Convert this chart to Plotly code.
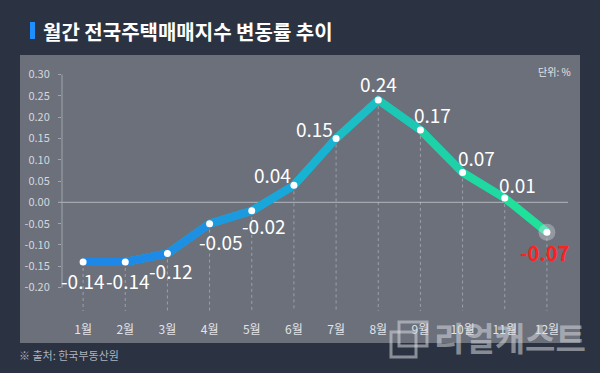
import plotly.graph_objects as go

# ---- data ----
months = ["1월", "2월", "3월", "4월", "5월", "6월", "7월", "8월", "9월", "10월", "11월", "12월"]
values = [-0.14, -0.14, -0.12, -0.05, -0.02, 0.04, 0.15, 0.24, 0.17, 0.07, 0.01, -0.07]
y_ticks = [0.30, 0.25, 0.20, 0.15, 0.10, 0.05, 0.00, -0.05, -0.10, -0.15, -0.20]
y_tick_labels = ["%.2f" % v for v in y_ticks]
title_text = "월간 전국주택매매지수 변동률 추이"
unit_text = "단위: %"
source_text = "※ 출처: 한국부동산원"
brand_text = "리얼캐스트"

# ---- style ----
W, H = 600, 373
L, R, T, B = 62, 32, 66, 62
PW, PH = W - L - R, H - T - B
FONT = "Noto Sans CJK KR, Noto Sans, sans-serif"
Y_RANGE = [-0.255, 0.32]
X_RANGE = [-0.5, len(months) - 0.5]
BG = "#2b3342"
PANEL = "#6b707b"

seg_colors = ["#1e88e8", "#1e8ae8", "#1d90e4", "#1b9ae0", "#19a6da", "#18b2d2",
              "#1abec4", "#1cc8b4", "#1ed2a8", "#1fd9a0", "#20e09a"]
# label offsets in px (dx right, dy down)
label_offsets = [(0, 18), (3, 18), (4, 17), (11, 18), (12, 15), (-21, -11),
                 (-22, -10), (0, -17), (12, -15), (14, -15), (13, -14), (-2, 20)]


def px_x(p):
    return (p - L) / PW


def px_y(p):
    return (H - B - p) / PH


x_idx = list(range(len(months)))
fig = go.Figure()

# vertical dotted guides from each point down
gx, gy = [], []
for i, v in zip(x_idx, values):
    gx += [i, i, None]
    gy += [v, Y_RANGE[0], None]
fig.add_trace(go.Scatter(x=gx, y=gy, mode="lines", hoverinfo="skip",
                         line=dict(color="rgba(215,218,224,0.45)", width=1, dash="dot"),
                         showlegend=False))

# base line (fills joints)
fig.add_trace(go.Scatter(x=x_idx, y=values, mode="lines", hoverinfo="skip",
                         line=dict(color="#1cb4c8", width=8), showlegend=False))
# coloured segments (gradient effect)
for k in range(len(values) - 1):
    fig.add_trace(go.Scatter(x=x_idx[k:k + 2], y=values[k:k + 2], mode="lines",
                             hoverinfo="skip", line=dict(color=seg_colors[k], width=8),
                             showlegend=False))
# halo on last point
fig.add_trace(go.Scatter(x=[x_idx[-1]], y=[values[-1]], mode="markers", hoverinfo="skip",
                         marker=dict(size=17, color="rgba(225,228,232,0.35)"),
                         showlegend=False))
# white dots
fig.add_trace(go.Scatter(x=x_idx, y=values, mode="markers",
                         marker=dict(size=7, color="white"), showlegend=False))

annotations = []
for i, (v, (dx, dy)) in enumerate(zip(values, label_offsets)):
    last = i == len(values) - 1
    annotations.append(dict(
        x=i, y=v, xref="x", yref="y", text=("<b>%.2f</b>" if last else "%.2f") % v,
        showarrow=False, xshift=dx, yshift=-dy,
        font=dict(family=FONT, size=20 if last else 19,
                  color="#ff2020" if last else "white")))

annotations += [
    dict(x=px_x(41), y=px_y(31), xref="paper", yref="paper", text="<b>%s</b>" % title_text,
         xanchor="left", yanchor="middle", showarrow=False,
         font=dict(family=FONT, size=20, color="white")),
    dict(x=px_x(573), y=px_y(71), xref="paper", yref="paper", text=unit_text,
         xanchor="right", yanchor="middle", showarrow=False,
         font=dict(family=FONT, size=10, color="#e2e4e8")),
    dict(x=px_x(17), y=px_y(355), xref="paper", yref="paper", text=source_text,
         xanchor="left", yanchor="middle", showarrow=False,
         font=dict(family=FONT, size=11, color="#aeb2ba")),
    dict(x=px_x(510), y=px_y(337), xref="paper", yref="paper", text="<b>%s</b>" % brand_text,
         xanchor="center", yanchor="middle", showarrow=False,
         font=dict(family=FONT, size=33, color="rgba(215,217,222,0.55)")),
]

shapes = [
    # panel
    dict(type="rect", xref="paper", yref="paper", x0=px_x(20), x1=px_x(580),
         y0=px_y(343), y1=px_y(55), fillcolor=PANEL, line=dict(width=0), layer="below"),
    # title bar
    dict(type="rect", xref="paper", yref="paper", x0=px_x(30), x1=px_x(35),
         y0=px_y(39), y1=px_y(22), fillcolor="#1f8fff", line=dict(width=0)),
    # zero line
    dict(type="line", xref="paper", yref="y", x0=px_x(58), x1=1, y0=0, y1=0,
         line=dict(color="#a4a8af", width=1.2), layer="below"),
    # y axis line
    dict(type="line", xref="paper", yref="y", x0=0, x1=0, y0=min(y_ticks), y1=max(y_ticks),
         line=dict(color="#a0a4ac", width=1), layer="below"),
    # brand icon
    dict(type="rect", xref="paper", yref="paper", x0=px_x(391), x1=px_x(416),
         y0=px_y(357), y1=px_y(332), line=dict(color="rgba(215,217,222,0.55)", width=3)),
    dict(type="rect", xref="paper", yref="paper", x0=px_x(399), x1=px_x(427),
         y0=px_y(346), y1=px_y(322), line=dict(color="rgba(215,217,222,0.55)", width=3)),
]

fig.update_layout(
    width=W, height=H, margin=dict(l=L, r=R, t=T, b=B),
    paper_bgcolor=BG, plot_bgcolor="rgba(0,0,0,0)",
    annotations=annotations, shapes=shapes, showlegend=False,
    xaxis=dict(range=X_RANGE, tickvals=x_idx, ticktext=months, showgrid=False,
               zeroline=False, showline=False, ticks="", ticklabelstandoff=10,
               tickfont=dict(family=FONT, size=12, color="#e2e4e8"), fixedrange=True),
    yaxis=dict(range=Y_RANGE, tickvals=y_ticks, ticktext=y_tick_labels, showgrid=False,
               zeroline=False, showline=False, ticks="outside", ticklen=3, tickcolor="#a0a4ac",
               ticklabelstandoff=6,
               tickfont=dict(family=FONT, size=11, color="#d5d8dd"), fixedrange=True),
)

fig.write_html("out.html", config={"displayModeBar": False},
               post_script="document.body.style.margin='0';document.body.style.background='%s';" % BG)
